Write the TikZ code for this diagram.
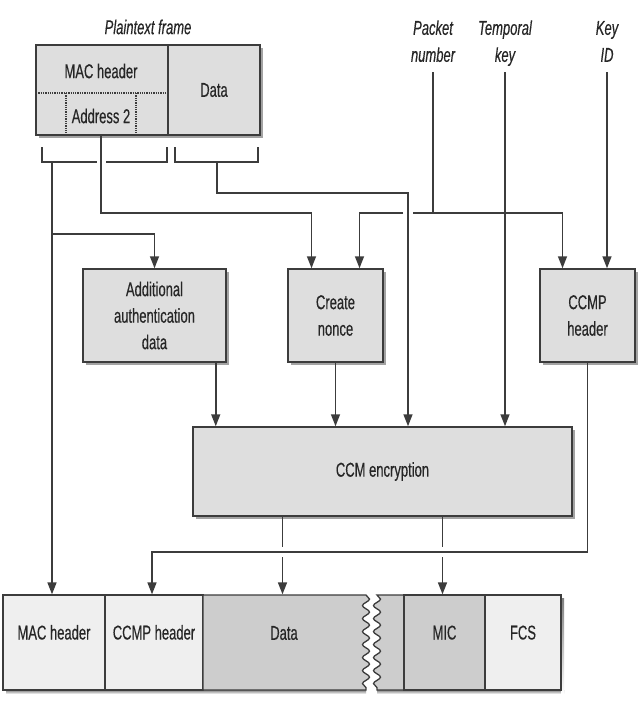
\documentclass[tikz,border=0pt]{standalone}
\usepackage{fontspec}
\setmainfont{Liberation Sans}[FakeStretch=0.65,FakeBold=0.35]
\usetikzlibrary{arrows.meta,shadows,decorations.pathmorphing,calc}
\definecolor{boxfill}{HTML}{DEDEDE}
\definecolor{lightcell}{HTML}{EFEFEF}
\definecolor{darkcell}{HTML}{CDCDCD}
\definecolor{edge}{HTML}{3C3C3C}
\definecolor{ink}{HTML}{262626}
\definecolor{shade}{HTML}{8C8C8C}
\begin{document}
\begin{tikzpicture}[x=1pt,y=-1pt,
  every node/.style={font=\fontsize{20}{26.5}\selectfont, text=ink},
  box/.style={draw=edge, line width=1.5pt, fill=boxfill, inner sep=0pt, align=center,
    drop shadow={shadow xshift=3pt, shadow yshift=-3pt, fill=shade, opacity=0.8}},
  cell/.style={draw=edge, line width=1.3pt, inner sep=0pt, minimum height=95pt, text height=14pt, text depth=20pt},
  conn/.style={draw=edge, line width=1.5pt},
  arr/.style={conn, -{Triangle[length=12pt,width=9pt]}},
  lbl/.style={font=\itshape\fontsize{20}{27}\selectfont, align=center, anchor=south, inner xsep=0pt, inner ysep=6pt, text depth=4pt},
  txt/.style={inner sep=0pt},
  wave/.style={decoration={snake,amplitude=3.5pt,segment length=13pt}}]
\fill[white] (0,0) rectangle (640,701);
\useasboundingbox (0,0) rectangle (640,701);

% plaintext frame
\node[font=\itshape\fontsize{20}{22}\selectfont] (ptitle) at (148,27) {Plaintext frame};
\node[box, minimum width=132pt, minimum height=90pt] (pmac) at (102,90) {};
\node[box, minimum width=92pt, minimum height=90pt] (pdata) at (214,90) {Data};
\draw[draw=edge, line width=1.3pt, densely dotted] (36,93) -- (168,93);
\draw[draw=edge, line width=1.3pt, densely dotted] (66,93) -- (66,135);
\draw[draw=edge, line width=1.3pt, densely dotted] (136,93) -- (136,135);
\node[txt] (pmact) at (101,71) {MAC header};
\node[txt] (addr) at (101,116) {Address 2};

% brackets
\draw[conn] (42,147) -- (42,162) -- (97,162);
\draw[conn] (106,162) -- (167,162) -- (167,147);
\draw[conn] (175,147) -- (175,162) -- (258,162) -- (258,147);
\coordinate (brL) at (52,162);
\coordinate (brR) at (217,162);
\coordinate (a2) at (101,135);

% input labels
\node[lbl] (pn) at (433,72) {Packet\\number};
\node[lbl] (tk) at (505,72) {Temporal\\key};
\node[lbl] (kid) at (607,72) {Key\\ID};

% middle boxes
\node[box, minimum width=143pt, minimum height=93pt] (aad) at (154.5,315.5) {Additional\\authentication\\data};
\node[box, minimum width=95pt, minimum height=93pt] (nonce) at (335.5,315.5) {Create\\nonce};
\node[box, minimum width=95pt, minimum height=93pt] (ccmph) at (587.5,315.5) {CCMP\\header};
\node[box, minimum width=379pt, minimum height=89pt] (ccm) at (382.5,471.5) {CCM encryption};

% bottom frame
\fill[shade] (6,690) rectangle (366,694);
\fill[shade] (377,690) rectangle (564,694);
\fill[shade] (561,598) rectangle (564,694);
\node[cell, fill=lightcell, minimum width=102pt] (macout) at (54,642.5) {MAC header};
\node[cell, fill=lightcell, minimum width=98pt] (ccmphout) at (154,642.5) {CCMP header};
\draw[draw=edge, line width=1.3pt, fill=darkcell] (203,595) -- (366,595) decorate[wave] {-- (366,690)} -- (203,690) -- cycle;
\draw[draw=edge, line width=1.3pt, fill=darkcell] (404,595) -- (377,595) decorate[wave] {-- (377,690)} -- (404,690);
\node[txt] (dout) at (284,633) {Data};
\node[cell, fill=darkcell, minimum width=81pt] (mic) at (444.5,642.5) {MIC};
\node[cell, fill=lightcell, minimum width=76pt] (fcs) at (523,642.5) {FCS};

% ports
\coordinate (nA) at ([xshift=-24pt]nonce.north);
\coordinate (nB) at ([xshift=24pt]nonce.north);
\coordinate (cA) at ([xshift=-25pt]ccmph.north);
\coordinate (ao) at ([xshift=-11pt]aad.south east);
\coordinate (o1) at ([xshift=-100pt]ccm.south);
\coordinate (o2) at ([xshift=60pt]ccm.south);
\coordinate (j1) at (52,234);
\coordinate (pnj) at (433,213);
\coordinate (d1) at (408,193);
\coordinate (r1) at (152,552);

% connectors
\draw[arr] (brL) -- (brL |- macout.north);
\draw[arr] (j1) -| (aad.north);
\draw[arr] (a2) -- (a2 |- pnj) -| (nA);
\draw[arr] (brR) |- (d1) -- (d1 |- ccm.north);
\draw[conn] (pn.south) |- ($(d1 |- pnj)+(5,0)$);
\draw[arr] (pnj) -| (cA);
\draw[arr] ($(d1 |- pnj)+(-5,0)$) -| (nB);
\draw[arr] (tk.south) -- (tk.south |- ccm.north);
\draw[arr] (kid.south) -- (kid.south |- ccmph.north);
\draw[arr] (ao) -- (ao |- ccm.north);
\draw[arr] (nonce.south) -- (nonce.south |- ccm.north);
\draw[arr] (ccmph.south) |- (r1) -- (r1 |- macout.north);
\draw[conn] (o1) -- ($(o1 |- r1)+(0,-5)$);
\draw[arr] ($(o1 |- r1)+(0,5)$) -- (o1 |- macout.north);
\draw[conn] (o2) -- ($(o2 |- r1)+(0,-5)$);
\draw[arr] ($(o2 |- r1)+(0,5)$) -- (o2 |- macout.north);
\end{tikzpicture}
\end{document}
